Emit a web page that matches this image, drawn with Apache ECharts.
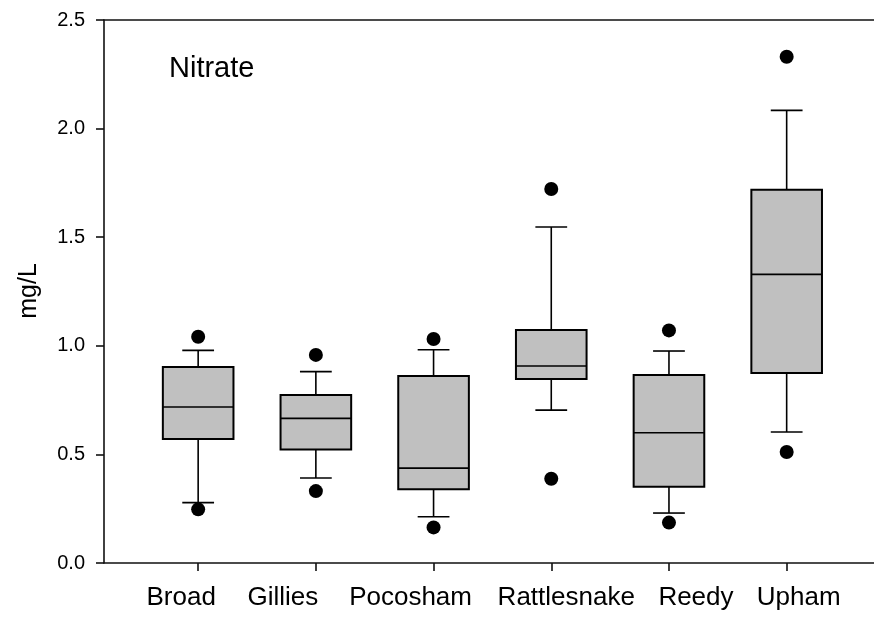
<!DOCTYPE html>
<html>
<head>
<meta charset="utf-8">
<script src="https://cdn.jsdelivr.net/npm/echarts@6/dist/echarts.min.js"></script>
<style>
html,body{margin:0;padding:0;background:#fff;}
#c{width:874px;height:617px;}
</style>
</head>
<body>
<div id="c"></div>
<script>
var categories = ['Broad', 'Gillies', 'Pocosham', 'Rattlesnake', 'Reedy', 'Upham'];
var whiskerLow  = [0.278, 0.391, 0.213, 0.704, 0.230, 0.603];
var q1          = [0.571, 0.523, 0.339, 0.847, 0.351, 0.875];
var median      = [0.718, 0.666, 0.437, 0.907, 0.600, 1.329];
var q3          = [0.902, 0.773, 0.861, 1.073, 0.866, 1.719];
var whiskerHigh = [0.979, 0.881, 0.982, 1.547, 0.976, 2.084];
var outlierLow  = [0.247, 0.331, 0.164, 0.388, 0.186, 0.511];
var outlierHigh = [1.042, 0.958, 1.031, 1.722, 1.071, 2.331];
var yTicks = [0, 0.5, 1.0, 1.5, 2.0, 2.5];

var positions = categories.map(function (c, i) { return i + 1; });
var boxData = categories.map(function (c, i) {
  return [positions[i], whiskerLow[i], q1[i], median[i], q3[i], whiskerHigh[i]];
});
var outlierData = [];
categories.forEach(function (c, i) {
  outlierData.push([positions[i], outlierLow[i]]);
  outlierData.push([positions[i], outlierHigh[i]]);
});

var FONT = 'Liberation Sans, Arial, sans-serif';
var BOX_HALF = 0.30;
var CAP_HALF = 0.135;
var lineStyle = { stroke: '#000', lineWidth: 1.6 };

// horizontal shift (px) of each category label relative to its tick, as in the reference layout
var labelShift = [-17, -33, -23, 15, 27, 12];
var rich = {};
labelShift.forEach(function (d, i) {
  rich['c' + i] = {
    fontSize: 26, fontFamily: FONT, color: '#000',
    padding: [0, Math.max(0, -2 * d), 0, Math.max(0, 2 * d)]
  };
});

function renderBox(params, api) {
  var x = api.value(0);
  var pLow = api.coord([x, api.value(1)]);
  var pQ1 = api.coord([x, api.value(2)]);
  var pMed = api.coord([x, api.value(3)]);
  var pQ3 = api.coord([x, api.value(4)]);
  var pHigh = api.coord([x, api.value(5)]);
  var left = api.coord([x - BOX_HALF, 0])[0];
  var right = api.coord([x + BOX_HALF, 0])[0];
  var capL = api.coord([x - CAP_HALF, 0])[0];
  var capR = api.coord([x + CAP_HALF, 0])[0];
  var cx = pMed[0];
  return {
    type: 'group',
    children: [
      { type: 'line', shape: { x1: cx, y1: pHigh[1], x2: cx, y2: pQ3[1] }, style: lineStyle },
      { type: 'line', shape: { x1: cx, y1: pQ1[1], x2: cx, y2: pLow[1] }, style: lineStyle },
      { type: 'line', shape: { x1: capL, y1: pHigh[1], x2: capR, y2: pHigh[1] }, style: lineStyle },
      { type: 'line', shape: { x1: capL, y1: pLow[1], x2: capR, y2: pLow[1] }, style: lineStyle },
      { type: 'rect', shape: { x: left, y: pQ3[1], width: right - left, height: pQ1[1] - pQ3[1] },
        style: { fill: '#c0c0c0', stroke: '#000', lineWidth: 2 } },
      { type: 'line', shape: { x1: left, y1: pMed[1], x2: right, y2: pMed[1] }, style: lineStyle }
    ]
  };
}

var chart = echarts.init(document.getElementById('c'), null, { renderer: 'canvas' });
chart.setOption({
  animation: false,
  backgroundColor: '#fff',
  grid: { left: 104, right: 0, top: 20, bottom: 54, containLabel: false },
  xAxis: [{
    type: 'value',
    min: 0.2,
    max: 6.742,
    splitLine: { show: false },
    axisLine: { lineStyle: { color: '#111', width: 1.6 } },
    axisTick: { show: true, length: 8, inside: false, customValues: positions, lineStyle: { color: '#111', width: 1.6 } },
    axisLabel: {
      customValues: positions,
      formatter: function (v) {
        var i = Math.round(v) - 1;
        return categories[i] ? '{c' + i + '|' + categories[i] + '}' : '';
      },
      rich: rich,
      fontSize: 26, color: '#000', fontFamily: FONT, margin: 22
    }
  }, {
    type: 'value',
    position: 'top',
    min: 0.2,
    max: 6.742,
    splitLine: { show: false },
    axisLine: { show: true, onZero: false, lineStyle: { color: '#111', width: 1.6 } },
    axisTick: { show: false },
    axisLabel: { show: false }
  }],
  yAxis: {
    type: 'value',
    min: 0,
    max: 2.5,
    interval: 0.5,
    splitLine: { show: false },
    axisLine: { show: true, lineStyle: { color: '#111', width: 1.6 } },
    axisTick: { show: true, length: 8, lineStyle: { color: '#111', width: 1.6 } },
    axisLabel: {
      fontSize: 20, color: '#000', fontFamily: FONT, margin: 19,
      formatter: function (v) { return v.toFixed(1); }
    }
  },
  graphic: [
    { type: 'text', x: 169, y: 69, style: { text: 'Nitrate', fontSize: 29, fontFamily: FONT, fill: '#000', textAlign: 'left', textVerticalAlign: 'middle' } },
    { type: 'text', x: 29, y: 291, rotation: Math.PI / 2, style: { text: 'mg/L', fontSize: 25, fontFamily: FONT, fill: '#000', textAlign: 'center', textVerticalAlign: 'middle' } }
  ],
  series: [{
    type: 'custom',
    xAxisIndex: 0,
    renderItem: renderBox,
    encode: { x: 0, y: [1, 2, 3, 4, 5] },
    data: boxData,
    z: 2
  }, {
    type: 'scatter',
    xAxisIndex: 0,
    data: outlierData,
    symbol: 'circle',
    symbolSize: 14,
    itemStyle: { color: '#000', opacity: 1 },
    z: 3
  }]
});
</script>
</body>
</html>
